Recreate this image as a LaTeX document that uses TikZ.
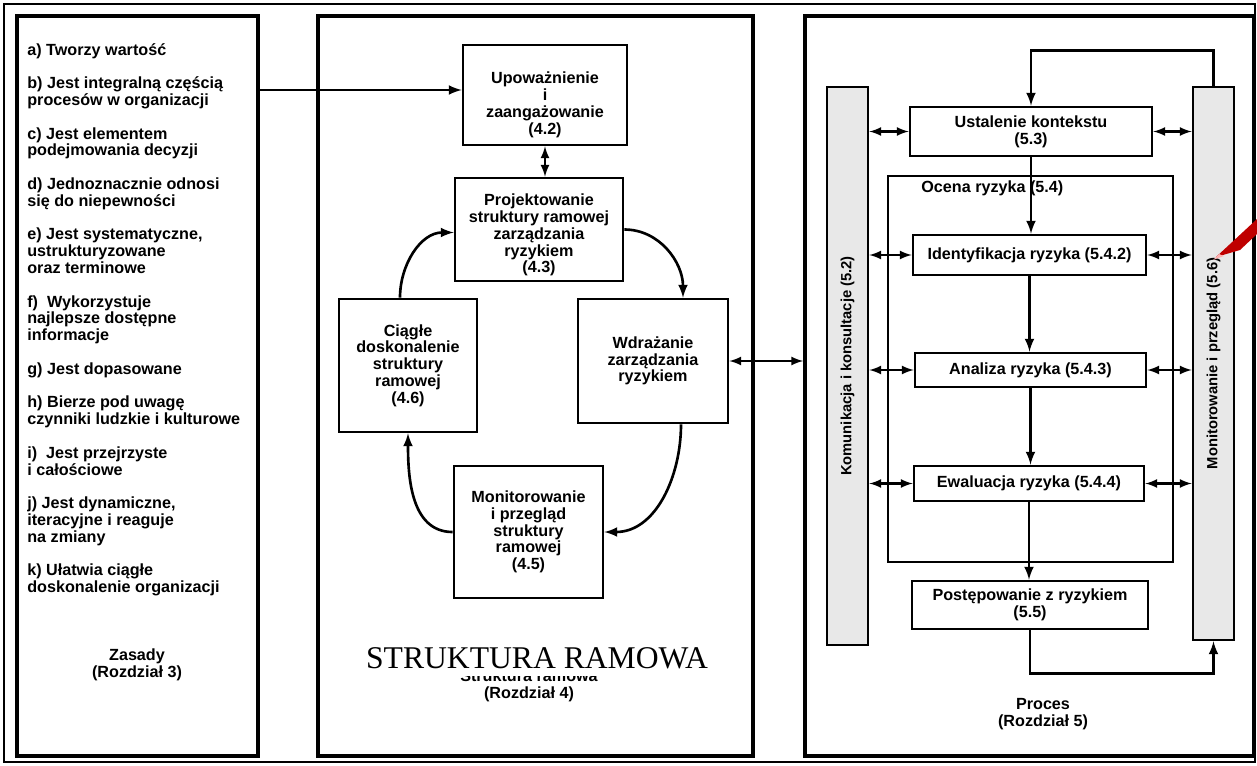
\documentclass[tikz,border=0pt]{standalone}
\usepackage{fontspec}
\usepackage{graphicx}
\setmainfont{Liberation Sans}
\newfontfamily\titlefont{Liberation Serif}
\newcommand{\boxfont}{\fontsize{9.2}{9.56}\selectfont\bfseries}
\newcommand{\barfont}{\fontsize{8.4}{9.56}\selectfont\bfseries}
\newcommand{\topgap}[1]{\rule{0pt}{#1}\\[-9.56pt]}

\begin{document}
\begin{tikzpicture}[x=0.02cm,y=-0.02cm,
  panel/.style={draw,line width=2.2pt,inner sep=0pt},
  box/.style={draw,line width=1.6pt,fill=white,align=center,inner sep=0pt,font=\boxfont},
  bar/.style={draw,line width=1.6pt,fill=black!9,inner sep=0pt,font=\barfont},
  lbl/.style={align=center,font=\boxfont},
  conn/.style={line width=1.5pt,-latex},
  dconn/.style={line width=1.3pt,latex-latex}]

\newcommand{\sidearrows}[1]{% box between the two bars
\draw[dconn] (kombar.east |- #1.west) -- (#1.west);
\draw[dconn] (#1.east) -- (monbar.west |- #1.east);
}

\useasboundingbox (0,0) rectangle (1257,765);

%outer frame
\draw[line width=1pt] (4,4) rectangle (1255,762);

%principles
\node[panel,minimum width=4.82cm,minimum height=14.8cm] (zasady) at (137.5,386) {};
\node[lbl,align=left,anchor=north west,inner sep=0pt] (zasady-list) at (27,43) {%
a) Tworzy wartość\\[9.56pt]
b) Jest integralną częścią\\procesów w organizacji\\[9.56pt]
c) Jest elementem\\podejmowania decyzji\\[9.56pt]
d) Jednoznacznie odnosi\\się do niepewności\\[9.56pt]
e) Jest systematyczne,\\ustrukturyzowane\\oraz terminowe\\[9.56pt]
f)\ \ Wykorzystuje\\najlepsze dostępne\\informacje\\[9.56pt]
g) Jest dopasowane\\[9.56pt]
h) Bierze pod uwagę\\czynniki ludzkie i kulturowe\\[9.56pt]
i)\ \ Jest przejrzyste\\i całościowe\\[9.56pt]
j) Jest dynamiczne,\\iteracyjne i reaguje\\na zmiany\\[9.56pt]
k) Ułatwia ciągłe\\doskonalenie organizacji};
\node[lbl] (zasady-label) at (137,665) {Zasady\\(Rozdział 3)};

%framework
\node[panel,minimum width=8.7cm,minimum height=14.8cm] (ramowa) at (535.5,386) {};
\node[box,minimum width=3.28cm,minimum height=2cm] (upow) at (545,95) {\topgap{18pt}Upoważnienie\\i\\zaangażowanie\\(4.2)};
\node[box,minimum width=3.36cm,minimum height=2.06cm] (proj) at (539,229.5) {\topgap{13pt}Projektowanie\\struktury ramowej\\zarządzania\\ryzykiem\\(4.3)};
\node[box,minimum width=2.76cm,minimum height=2.66cm] (ciag) at (408,365.5) {Ciągłe\\doskonalenie\\struktury\\ramowej\\(4.6)};
\node[box,minimum width=3cm,minimum height=2.48cm] (wdr) at (653,361) {Wdrażanie\\zarządzania\\ryzykiem};
\node[box,minimum width=2.98cm,minimum height=2.64cm] (mon) at (528.5,532) {Monitorowanie\\i przegląd\\struktury\\ramowej\\(4.5)};
\node[lbl] (ramowa-label) at (529,686) {Struktura ramowa\\(Rozdział 4)};
\node[fill=white,inner sep=1pt,text depth=3.5pt,anchor=base,font=\titlefont\fontsize{18}{20}\selectfont] (ramowa-title) at (537,668) {STRUKTURA RAMOWA};

%framework arrows
\coordinate (upow-in) at ([yshift=0.1cm]upow.west);
\draw[conn] (zasady.east |- upow-in) -- (upow-in);
\draw[dconn] (upow.south) -- (upow.south |- proj.north);
\draw[conn] ([xshift=-0.16cm]ciag.north) to[out=90,in=180] ([yshift=-0.06cm]proj.west);
\draw[conn] (proj.east) to[out=0,in=90] ([xshift=0.6cm]wdr.north);
\draw[conn] ([xshift=0.56cm]wdr.south) to[out=-90,in=0] (mon.east);
\draw[conn] (mon.west) to[out=180,in=-90] (ciag.south);

%process
\node[panel,minimum width=8.98cm,minimum height=14.8cm] (proces) at (1029.5,386) {};
\draw[dconn] (wdr.east) -- (wdr.east -| proces.west);
\node[bar,minimum width=0.82cm,minimum height=11.16cm] (kombar) at (847.5,366) {\rotatebox{90}{Komunikacja i konsultacje (5.2)}};
\node[bar,minimum width=0.82cm,minimum height=11.06cm] (monbar) at (1213.5,363.5) {\rotatebox{90}{Monitorowanie i przegląd (5.6)}};
\node[box,minimum width=5.7cm,minimum height=7.72cm] (ocena) at (1030.5,369) {};
\node[lbl,anchor=west,inner sep=0pt] (ocena-label) at (921,188) {Ocena ryzyka (5.4)};
\node[box,minimum width=4.84cm,minimum height=0.98cm] (ust) at (1031,131.5) {Ustalenie kontekstu\\(5.3)};
\node[box,minimum width=4.66cm,minimum height=0.8cm] (ident) at (1029.5,255) {Identyfikacja ryzyka (5.4.2)};
\node[box,minimum width=4.62cm,minimum height=0.68cm] (anal) at (1030.5,370) {Analiza ryzyka (5.4.3)};
\node[box,minimum width=4.6cm,minimum height=0.7cm] (ewal) at (1029,483.5) {Ewaluacja ryzyka (5.4.4)};
\node[box,minimum width=4.72cm,minimum height=0.96cm] (post) at (1030,605) {Postępowanie z ryzykiem\\(5.5)};
\node[lbl] (proces-label) at (1043,714) {Proces\\(Rozdział 5)};

%process arrows
\draw[conn] (ust.south) -- (ust.south |- ident.north);
\draw[conn] (ident.south) -- (ident.south |- anal.north);
\draw[conn] (anal.south) -- (anal.south |- ewal.north);
\draw[conn] (ewal.south) -- (ewal.south |- post.north);
\draw[conn] (monbar.north) -- ++(0,-35) -| (ust.north);
\draw[conn] (post.south) -- ++(0,43) -| (monbar.south);
\sidearrows{ust}
\sidearrows{ident}
\sidearrows{anal}
\sidearrows{ewal}

%red pen mark
\fill[red!75!black] (1216,257) -- (1257,219) -- (1257,234) -- (1240,250) -- cycle;
\fill[red!30] (1213,260) -- (1219,254) -- (1224,256) -- cycle;

\end{tikzpicture}
\end{document}
